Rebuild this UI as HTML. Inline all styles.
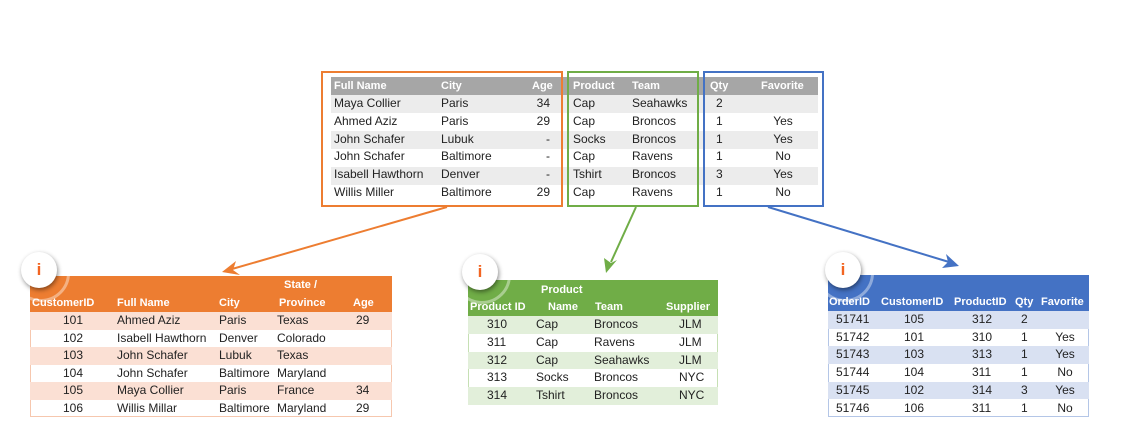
<!DOCTYPE html>
<html><head><meta charset="utf-8"><style>
body{margin:0;width:1137px;height:445px;background:#fff;position:relative;overflow:hidden;font-family:"Liberation Sans",sans-serif;font-size:12px;color:#222}
.a{position:absolute;white-space:nowrap}
.r{position:absolute;height:18px}
.t{position:absolute;line-height:18px;white-space:nowrap}
.h{color:#fff;font-weight:bold;font-size:11px}
.ic{position:absolute;width:36px;height:36px;border-radius:50%;background:#fff;box-shadow:1px 2px 5px rgba(0,0,0,.45);text-align:center;line-height:36px;font-weight:bold;font-size:17px;color:#f26522}
.ring{position:absolute;width:52px;height:52px;border-radius:50%;border:3px solid rgba(255,255,255,.4)}
</style></head><body>

<!-- top table -->
<div class="r" style="left:331px;top:77px;width:487px;height:18px;background:#a6a6a6"></div>
<div class="r" style="left:331px;top:95px;width:487px;background:#ececec"></div>
<div class="r" style="left:331px;top:131px;width:487px;background:#ececec"></div>
<div class="r" style="left:331px;top:167px;width:487px;background:#ececec"></div>
<div class="t h" style="left:334px;top:77px">Full Name</div><div class="t h" style="left:441px;top:77px">City</div><div class="t h" style="left:532px;top:77px">Age</div>
<div class="t h" style="left:573px;top:77px">Product</div><div class="t h" style="left:632px;top:77px">Team</div>
<div class="t h" style="left:710px;top:77px">Qty</div><div class="t h" style="left:761px;top:77px">Favorite</div>
<div class="t" style="left:334px;top:95px;line-height:17.8px">Maya Collier<br>Ahmed Aziz<br>John Schafer<br>John Schafer<br>Isabell Hawthorn<br>Willis Miller</div>
<div class="t" style="left:441px;top:95px;line-height:17.8px">Paris<br>Paris<br>Lubuk<br>Baltimore<br>Denver<br>Baltimore</div>
<div class="t" style="left:530px;top:95px;line-height:17.8px;text-align:right;width:20px">34<br>29<br>-<br>-<br>-<br>29</div>
<div class="t" style="left:573px;top:95px;line-height:17.8px">Cap<br>Cap<br>Socks<br>Cap<br>Tshirt<br>Cap</div>
<div class="t" style="left:632px;top:95px;line-height:17.8px">Seahawks<br>Broncos<br>Broncos<br>Ravens<br>Broncos<br>Ravens</div>
<div class="t" style="left:716px;top:95px;line-height:17.8px">2<br>1<br>1<br>1<br>3<br>1</div>
<div class="t" style="left:763px;top:95px;line-height:17.8px;width:40px;text-align:center">&nbsp;<br>Yes<br>Yes<br>No<br>Yes<br>No</div>
<div class="a" style="left:321px;top:71px;width:238px;height:132px;border:2px solid #ed7d31"></div>
<div class="a" style="left:567px;top:71px;width:128px;height:132px;border:2px solid #70ad47"></div>
<div class="a" style="left:703px;top:71px;width:117px;height:132px;border:2px solid #4472c4"></div>

<svg class="a" style="left:0;top:0" width="1137" height="445">
<line x1="447" y1="207" x2="232" y2="269" stroke="#ed7d31" stroke-width="2"/>
<polygon points="222,272 236,261 233,270 240,275" fill="#ed7d31"/>
<line x1="636" y1="207" x2="611" y2="262" stroke="#70ad47" stroke-width="2"/>
<polygon points="606,273 604,258 611,263 617,260" fill="#70ad47"/>
<line x1="768" y1="207" x2="949" y2="262" stroke="#4472c4" stroke-width="2"/>
<polygon points="959,266 942,268 948,262 946,254" fill="#4472c4"/>
</svg>

<!-- orange table -->
<div class="r" style="left:30px;top:276px;width:362px;height:36px;background:#ed7d31"></div>
<div class="r" style="left:30px;top:312px;width:362px;height:105px;border:1px solid #f6c7ae;box-sizing:border-box"></div>
<div class="r" style="left:30px;top:312px;width:362px;height:17.5px;background:#fbe0d4"></div>
<div class="r" style="left:30px;top:347px;width:362px;height:17.5px;background:#fbe0d4"></div>
<div class="r" style="left:30px;top:382px;width:362px;height:17.5px;background:#fbe0d4"></div>
<div class="t h" style="left:284px;top:276px">State /</div>
<div class="t h" style="left:32px;top:294px">CustomerID</div><div class="t h" style="left:117px;top:294px">Full Name</div><div class="t h" style="left:219px;top:294px">City</div><div class="t h" style="left:279px;top:294px">Province</div><div class="t h" style="left:353px;top:294px">Age</div>
<div class="t" style="left:63px;top:312px;line-height:17.5px">101<br>102<br>103<br>104<br>105<br>106</div>
<div class="t" style="left:117px;top:312px;line-height:17.5px">Ahmed Aziz<br>Isabell Hawthorn<br>John Schafer<br>John Schafer<br>Maya Collier<br>Willis Millar</div>
<div class="t" style="left:219px;top:312px;line-height:17.5px">Paris<br>Denver<br>Lubuk<br>Baltimore<br>Paris<br>Baltimore</div>
<div class="t" style="left:277px;top:312px;line-height:17.5px">Texas<br>Colorado<br>Texas<br>Maryland<br>France<br>Maryland</div>
<div class="t" style="left:356px;top:312px;line-height:17.5px">29<br><br><br><br>34<br>29</div>
<div class="ring" style="left:12px;top:244px"></div>
<div class="ic" style="left:21px;top:252px">i</div>

<!-- green table -->
<div class="r" style="left:468px;top:280px;width:250px;height:36px;background:#70ad47"></div>
<div class="r" style="left:468px;top:316px;width:250px;height:89px;border:1px solid #c6e0b4;box-sizing:border-box"></div>
<div class="r" style="left:468px;top:316px;width:250px;height:17.8px;background:#e2efda"></div>
<div class="r" style="left:468px;top:351.6px;width:250px;height:17.8px;background:#e2efda"></div>
<div class="r" style="left:468px;top:387.2px;width:250px;height:17.8px;background:#e2efda"></div>
<div class="t h" style="left:541px;top:281px">Product</div>
<div class="t h" style="left:470px;top:298px">Product ID</div><div class="t h" style="left:548px;top:298px">Name</div><div class="t h" style="left:595px;top:298px">Team</div><div class="t h" style="left:666px;top:298px">Supplier</div>
<div class="t" style="left:487px;top:316px;line-height:17.8px">310<br>311<br>312<br>313<br>314</div>
<div class="t" style="left:536px;top:316px;line-height:17.8px">Cap<br>Cap<br>Cap<br>Socks<br>Tshirt</div>
<div class="t" style="left:594px;top:316px;line-height:17.8px">Broncos<br>Ravens<br>Seahawks<br>Broncos<br>Broncos</div>
<div class="t" style="left:679px;top:316px;line-height:17.8px">JLM<br>JLM<br>JLM<br>NYC<br>NYC</div>
<div class="ring" style="left:453px;top:246px"></div>
<div class="ic" style="left:462px;top:254px">i</div>

<!-- blue table -->
<div class="r" style="left:828px;top:275px;width:261px;height:36px;background:#4472c4"></div>
<div class="r" style="left:828px;top:311px;width:261px;height:106px;border:1px solid #b4c6e7;box-sizing:border-box"></div>
<div class="r" style="left:828px;top:311px;width:261px;height:17.7px;background:#d9e1f2"></div>
<div class="r" style="left:828px;top:346.4px;width:261px;height:17.7px;background:#d9e1f2"></div>
<div class="r" style="left:828px;top:381.8px;width:261px;height:17.7px;background:#d9e1f2"></div>
<div class="t h" style="left:829px;top:293px">OrderID</div><div class="t h" style="left:881px;top:293px">CustomerID</div><div class="t h" style="left:954px;top:293px">ProductID</div><div class="t h" style="left:1015px;top:293px">Qty</div><div class="t h" style="left:1041px;top:293px">Favorite</div>
<div class="t" style="left:836px;top:311px;line-height:17.7px">51741<br>51742<br>51743<br>51744<br>51745<br>51746</div>
<div class="t" style="left:904px;top:311px;line-height:17.7px">105<br>101<br>103<br>104<br>102<br>106</div>
<div class="t" style="left:972px;top:311px;line-height:17.7px">312<br>310<br>313<br>311<br>314<br>311</div>
<div class="t" style="left:1021px;top:311px;line-height:17.7px">2<br>1<br>1<br>1<br>3<br>1</div>
<div class="t" style="left:1050px;top:311px;line-height:17.7px;width:30px;text-align:center">&nbsp;<br>Yes<br>Yes<br>No<br>Yes<br>No</div>
<div class="ring" style="left:816px;top:244px"></div>
<div class="ic" style="left:825px;top:252px">i</div>
</body></html>
